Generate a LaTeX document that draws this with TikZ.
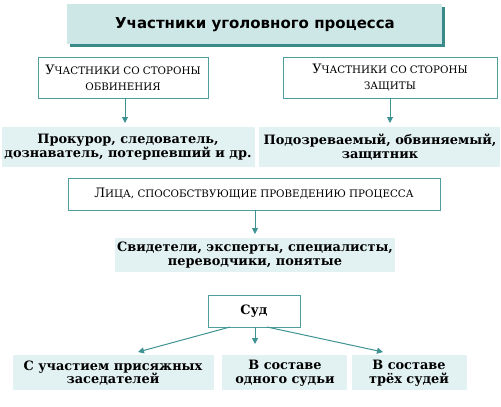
\documentclass[tikz,border=0pt]{standalone}
\usepackage{fontspec}
\setmainfont{DejaVu Serif}
\newfontfamily\titlefont{DejaVu Sans}
\definecolor{tealline}{HTML}{4E9E9E}
\definecolor{tealarrow}{HTML}{3F9292}
\definecolor{bandfill}{HTML}{E2F1F1}
\definecolor{titlefill}{HTML}{CDE6E6}
\definecolor{titleshadow}{HTML}{3A8A8A}
\usetikzlibrary{arrows.meta}
\newcommand{\sctext}[2]{#1{\fontsize{10.3}{12}\selectfont #2}}
\begin{document}
\begin{tikzpicture}[x=1pt,y=-1pt,
  boxnode/.style={draw=tealline, line width=1pt, fill=white, inner sep=0pt},
  txt/.style={align=center, font=\fontsize{12.9}{13.6}\selectfont\bfseries, inner sep=0pt},
  boxtxt/.style={align=center, font=\fontsize{13}{16}\selectfont, inner sep=0pt},
  arr/.style={draw=tealarrow, line width=1pt, -{Triangle[length=6pt,width=6pt]}}]
\useasboundingbox (0,0) rectangle (501,407);
% title
\fill[titleshadow] (70,7) rectangle (445,47);
\fill[titlefill] (67,4) rectangle (442,44);
\node[font=\titlefont\fontsize{15}{16}\selectfont\bfseries, inner sep=0pt] (title) at (255,25) {Участники уголовного процесса};
% row 1 boxes
\draw[boxnode] (38,57) rectangle (208,98);
\node[boxtxt] (acc) at (123,77.5) {\sctext{У}{ЧАСТНИКИ СО СТОРОНЫ}\\\sctext{}{ОБВИНЕНИЯ}};
\draw[boxnode] (283,57) rectangle (497,98);
\node[boxtxt] (def) at (390,77.5) {\sctext{У}{ЧАСТНИКИ СО СТОРОНЫ}\\\sctext{}{ЗАЩИТЫ}};
\coordinate (accb) at (125,98);
\coordinate (defb) at (390,98);
% bands row 1
\fill[bandfill] (2,127) rectangle (255,167);
\fill[bandfill] (259,127) rectangle (500,167);
\node[txt] (accl) at (128,147) {Прокурор, следователь,\\дознаватель, потерпевший и др.};
\node[txt] (defl) at (380,147) {Подозреваемый, обвиняемый,\\защитник};
\coordinate (accbt) at (125,123);
\coordinate (defbt) at (390,123);
\draw[arr] (accb) -- (accbt);
\draw[arr] (defb) -- (defbt);
% persons box
\draw[boxnode] (68,178) rectangle (440,210);
\node[boxtxt] (pers) at (254,194) {\sctext{Л}{ИЦА, СПОСОБСТВУЮЩИЕ ПРОВЕДЕНИЮ ПРОЦЕССА}};
\coordinate (persb) at (255,210);
\fill[bandfill] (115,238) rectangle (395,272);
\node[txt] (wit) at (255,255) {Свидетели, эксперты, специалисты,\\переводчики, понятые};
\coordinate (witt) at (255,234);
\draw[arr] (persb) -- (witt);
% court
\draw[boxnode] (208,295) rectangle (300,327);
\node[txt] (court) at (254,311) {Суд};
\coordinate (c1) at (230,327);
\coordinate (c2) at (255,327);
\coordinate (c3) at (267,327);
\fill[bandfill] (13,355) rectangle (214,390);
\fill[bandfill] (222,355) rectangle (347,390);
\fill[bandfill] (352,355) rectangle (467,390);
\node[txt] (j1) at (113,373) {С участием присяжных\\заседателей};
\node[txt] (j2) at (285,373) {В составе\\одного судьи};
\node[txt] (j3) at (409,373) {В составе\\трёх судей};
\coordinate (t1) at (138,352);
\coordinate (t2) at (255,344);
\coordinate (t3) at (383,352);
\draw[arr] (c1) -- (t1);
\draw[arr] (c2) -- (t2);
\draw[arr] (c3) -- (t3);
\end{tikzpicture}
\end{document}
